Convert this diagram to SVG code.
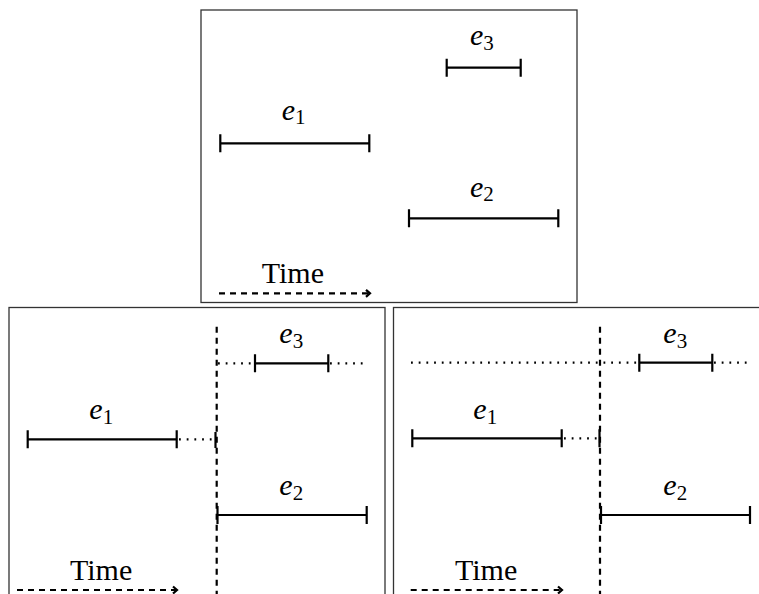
<svg xmlns="http://www.w3.org/2000/svg" width="759" height="594" viewBox="0 0 759 594">
<rect width="759" height="594" fill="#fff"/>

<g id="panels" fill="#fff" stroke="#333" stroke-width="1.3">
<rect x="201" y="10" width="376" height="292.5"/>
<rect x="9" y="307.5" width="376" height="300"/>
<rect x="393.5" y="307.5" width="376" height="300"/>
</g>

<g id="connectors" fill="none" stroke="#000" stroke-width="2.2">
<g id="dashed" stroke-dasharray="6 5">
<line x1="219" y1="293.3" x2="369" y2="293.3"/>
<line x1="216.7" y1="326.7" x2="216.7" y2="600"/>
<line x1="17" y1="590" x2="176" y2="590"/>
<line x1="600" y1="326.7" x2="600" y2="600"/>
<line x1="410.7" y1="590" x2="561" y2="590"/>
</g>
<g id="arrowheads">
<path d="M366,289.8L370,293.3L366,296.8"/>
<path d="M173,586.5L177,590L173,593.5"/>
<path d="M558,586.5L562,590L558,593.5"/>
</g>
<g id="dotted" stroke-dasharray="1.8 5.9">
<path d="M218,363.3H255M330,363.3H368"/>
<path d="M179,439.3H215"/>
<path d="M411,362.7H639M714,362.7H750"/>
<path d="M564,438.3H599"/>
</g>
</g>

<g id="intervals" fill="none" stroke="#000" stroke-width="2.2">
<path id="top-e3" d="M446.7,67.7H520.7M446.7,58.7V76.7M520.7,58.7V76.7"/>
<path id="top-e1" d="M220.3,143.3H369.3M220.3,134.3V152.3M369.3,134.3V152.3"/>
<path id="top-e2" d="M409,218.3H558.3M409,209.3V227.3M558.3,209.3V227.3"/>
<path id="left-e3" d="M255,363.3H328.3M255,354.3V372.3M328.3,354.3V372.3"/>
<path id="left-e1" d="M27.7,439.3H176.7M27.7,430.3V448.3M176.7,430.3V448.3M215.5,432V448"/>
<path id="left-e2" d="M217,515H366.7M217.5,506V524M366.7,506V524"/>
<path id="right-e3" d="M639.3,362.7H712.3M639.3,353.7V371.7M712.3,353.7V371.7"/>
<path id="right-e1" d="M412.3,438.3H561.7M412.3,429.3V447.3M561.7,429.3V447.3M599.5,429.3V447.3"/>
<path id="right-e2" d="M600.5,515H750M601,506V524M750,506V524"/>
</g>

<g id="labels">
<text x="470" y="45" font-family="Times New Roman" font-size="30" font-style="italic">e<tspan font-size="21" font-style="normal" dy="4.5">3</tspan></text>
<text x="281.7" y="119.5" font-family="Times New Roman" font-size="30" font-style="italic">e<tspan font-size="21" font-style="normal" dy="4.5">1</tspan></text>
<text x="470" y="196.8" font-family="Times New Roman" font-size="30" font-style="italic">e<tspan font-size="21" font-style="normal" dy="4.5">2</tspan></text>
<text x="279.3" y="343.3" font-family="Times New Roman" font-size="30" font-style="italic">e<tspan font-size="21" font-style="normal" dy="4.5">3</tspan></text>
<text x="89.3" y="419.3" font-family="Times New Roman" font-size="30" font-style="italic">e<tspan font-size="21" font-style="normal" dy="4.5">1</tspan></text>
<text x="279.3" y="495" font-family="Times New Roman" font-size="30" font-style="italic">e<tspan font-size="21" font-style="normal" dy="4.5">2</tspan></text>
<text x="663.3" y="343.3" font-family="Times New Roman" font-size="30" font-style="italic">e<tspan font-size="21" font-style="normal" dy="4.5">3</tspan></text>
<text x="473.3" y="419.3" font-family="Times New Roman" font-size="30" font-style="italic">e<tspan font-size="21" font-style="normal" dy="4.5">1</tspan></text>
<text x="663.3" y="495" font-family="Times New Roman" font-size="30" font-style="italic">e<tspan font-size="21" font-style="normal" dy="4.5">2</tspan></text>
<text x="261.7" y="282.7" font-family="Times New Roman" font-size="30">Time</text>
<text x="70" y="580" font-family="Times New Roman" font-size="30">Time</text>
<text x="455" y="580" font-family="Times New Roman" font-size="30">Time</text>
</g>
</svg>
